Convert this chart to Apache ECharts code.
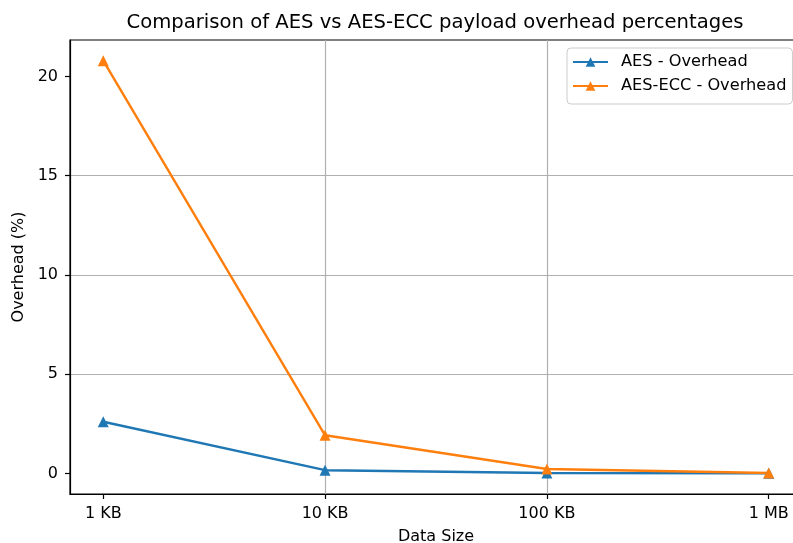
<!DOCTYPE html>
<html>
<head>
<meta charset="utf-8">
<script src="https://cdn.jsdelivr.net/npm/echarts@6/dist/echarts.min.js"></script>
<style>html,body{margin:0;padding:0;background:#fff}#c{width:793px;height:543px}</style>
</head>
<body>
<div id="c"></div>
<script>
const categories = ['1 KB', '10 KB', '100 KB', '1 MB'];
const aesOverhead = [2.6, 0.16, 0.02, 0.002];
const aesEccOverhead = [20.8, 1.92, 0.22, 0.02];
const yTicks = [0, 5, 10, 15, 20];
const xTicks = [0, 1, 2, 3];

const FONT = 'DejaVu Sans';
const chart = echarts.init(document.getElementById('c'), null, {renderer: 'canvas'});
const toPairs = arr => arr.map((v, i) => [i, v]);

chart.setOption({
  animation: false,
  backgroundColor: '#fff',
  title: {
    text: 'Comparison of AES vs AES-ECC payload overhead percentages',
    left: 430, top: 8, textAlign: 'center',
    textStyle: {fontFamily: FONT, fontSize: 19.6, fontWeight: 'normal', color: '#000'}
  },
  legend: {
    orient: 'vertical', left: 567, top: 48,
    itemWidth: 35, itemHeight: 12, itemGap: 8,
    padding: [6, 6, 10, 5],
    borderColor: '#cccccc', borderWidth: 1, borderRadius: 4,
    backgroundColor: 'rgba(255,255,255,0.8)',
    textStyle: {fontFamily: FONT, fontSize: 16.2, color: '#000', lineHeight: 16, padding: [0, 0, 0, 8]},
    data: ['AES - Overhead', 'AES-ECC - Overhead']
  },
  grid: {left: 70, top: 40, width: 732, height: 454, show: true, borderColor: '#000', borderWidth: 1.2,
    containLabel: false, outerBoundsMode: 'none'},
  xAxis: {
    type: 'value', min: -0.15, max: 3.15, splitNumber: 3,
    name: 'Data Size', nameLocation: 'middle', nameGap: 35,
    nameTextStyle: {fontFamily: FONT, fontSize: 16, color: '#000'},
    axisLine: {show: true, onZero: false, lineStyle: {color: '#000', width: 1.2}},
    axisTick: {show: true, customValues: xTicks, length: 5, lineStyle: {color: '#000', width: 1.2}},
    axisLabel: {customValues: xTicks, margin: 12, fontFamily: FONT, fontSize: 16, color: '#000',
      formatter: v => categories[Math.round(v)] || ''},
    splitLine: {show: true, showMinLine: false, showMaxLine: false, lineStyle: {color: '#b0b0b0', width: 1.2}}
  },
  yAxis: {
    type: 'value', min: -1.04, max: 21.84, splitNumber: 5,
    name: 'Overhead (%)', nameLocation: 'middle', nameGap: 41, nameRotate: 90,
    nameTextStyle: {fontFamily: FONT, fontSize: 16, color: '#000'},
    axisLine: {show: true, onZero: false, lineStyle: {color: '#000', width: 1.2}},
    axisTick: {show: true, customValues: yTicks, length: 5, lineStyle: {color: '#000', width: 1.2}},
    axisLabel: {customValues: yTicks, margin: 12, fontFamily: FONT, fontSize: 16, color: '#000'},
    splitLine: {show: true, showMinLine: false, showMaxLine: false, lineStyle: {color: '#b0b0b0', width: 1.2}}
  },
  series: [
    {name: 'AES - Overhead', type: 'line', data: toPairs(aesOverhead), symbol: 'triangle', symbolSize: 11,
      color: '#1f77b4', lineStyle: {width: 2.4, color: '#1f77b4'}, itemStyle: {color: '#1f77b4'}},
    {name: 'AES-ECC - Overhead', type: 'line', data: toPairs(aesEccOverhead), symbol: 'triangle', symbolSize: 11,
      color: '#ff7f0e', lineStyle: {width: 2.4, color: '#ff7f0e'}, itemStyle: {color: '#ff7f0e'}}
  ]
});
</script>
</body>
</html>
